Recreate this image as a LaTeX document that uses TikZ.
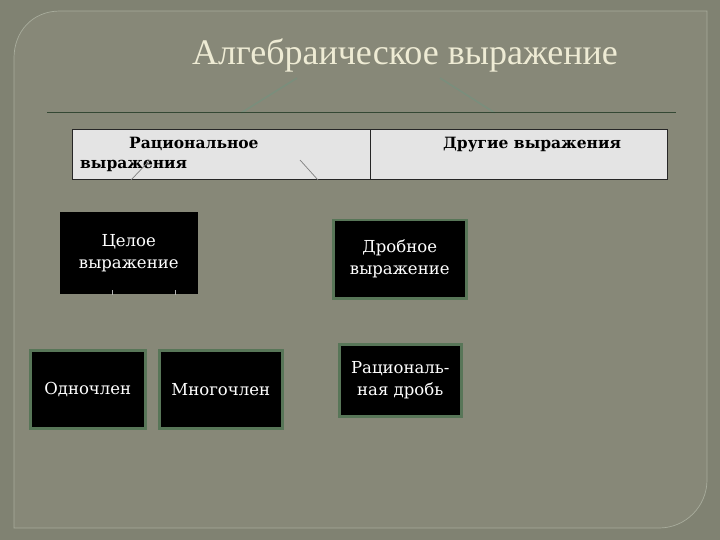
\documentclass[tikz,border=0pt]{standalone}
\usepackage{fontspec}
\setmainfont{Liberation Serif}
\newfontfamily\slab{DejaVu Serif}
\definecolor{outerbg}{RGB}{128,130,114}
\definecolor{panelbg}{RGB}{135,136,120}
\definecolor{panelline}{RGB}{168,172,156}
\definecolor{titlecol}{RGB}{238,235,212}
\definecolor{rulecol}{RGB}{52,72,52}
\definecolor{faint}{RGB}{122,142,124}
\definecolor{cellfill}{RGB}{228,228,228}
\definecolor{boxedge}{RGB}{88,118,88}
\tikzset{
  darkbox/.style={draw=boxedge, line width=2.5pt, fill=black, text=white,
    font=\slab\fontsize{16.5}{22}\selectfont, align=center, inner sep=0pt},
  cell/.style={draw=black!85, line width=1.2pt, fill=cellfill},
  celltext/.style={font=\slab\bfseries\fontsize{15.5}{20}\selectfont, text=black, inner sep=0pt},
  faintline/.style={draw=faint, line width=1.6pt}
}
\begin{document}
\begin{tikzpicture}[x=1pt,y=-1pt]
\useasboundingbox (0,0) rectangle (720,540);
\fill[outerbg] (0,0) rectangle (720,540);
% panel
\draw[panelline, fill=panelbg, line width=0.7pt]
  (14,58) .. controls (14,32) and (32,11) .. (60,11) -- (707,11) -- (707,480)
  .. controls (707,506) and (686,528) .. (659,528) -- (14,528) -- cycle;
% title
\node[font=\fontsize{36}{40}\selectfont, text=titlecol] (title) at (405,55) {Алгебраическое выражение};
% faint connectors from title
\coordinate (ta) at (297,78);
\coordinate (tb) at (440,78);
\coordinate (la) at (241,113);
\coordinate (lb) at (495,113);
\draw[faintline] (ta) -- (la);
\draw[faintline] (tb) -- (lb);
% rule
\coordinate (r1) at (47,113);
\coordinate (r2) at (676,113);
\draw[rulecol, line width=1pt] (r1) -- (r2);
% table
\node[cell, minimum width=298, minimum height=50, anchor=north west] (rat) at (72,129) {};
\node[cell, minimum width=297, minimum height=50, anchor=north west] (oth) at (370,129) {};
\node[celltext, anchor=north west, align=left] (rattext) at (80,137) {\hspace*{49pt}Рациональное\\выражения};
\node[celltext, anchor=north west] (othtext) at (443,137) {Другие выражения};
% connector stubs in table
\coordinate (c1a) at (150,160);
\coordinate (c1b) at (131,180);
\coordinate (c2a) at (300,160);
\coordinate (c2b) at (318,180);
\draw[gray, line width=0.7pt] (c1a) -- (c1b);
\draw[gray, line width=0.7pt] (c2a) -- (c2b);
% boxes
\node[darkbox, draw=black, line width=0.5pt, minimum width=137, minimum height=81, anchor=north west] (whole) at (60,212) {Целое\\выражение};
\node[darkbox, minimum width=133, minimum height=78, anchor=north west] (frac) at (332,219) {Дробное\\выражение};
\node[darkbox, minimum width=115, minimum height=78, anchor=north west] (mono) at (29,349) {Одночлен};
\node[darkbox, minimum width=123, minimum height=78, anchor=north west] (poly) at (158,349) {Многочлен};
\node[darkbox, minimum width=122, minimum height=72, anchor=north west] (ratfrac) at (338,343) {Рациональ-\\ная дробь};
% small ticks at bottom of whole
\coordinate (w1) at (112,290);
\coordinate (w1b) at (112,295);
\coordinate (w2) at (175,290);
\coordinate (w2b) at (175,295);
\draw[gray!60, line width=0.7pt] (w1) -- (w1b);
\draw[gray!60, line width=0.7pt] (w2) -- (w2b);
\end{tikzpicture}
\end{document}
